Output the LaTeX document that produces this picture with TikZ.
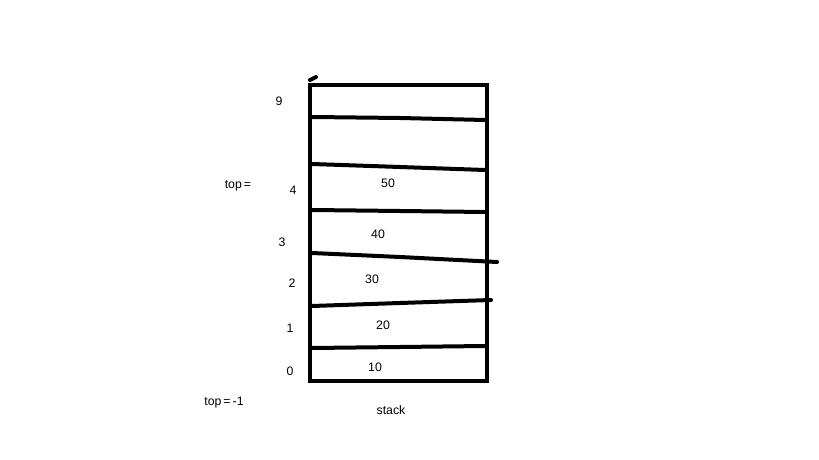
\documentclass[tikz,border=0pt]{standalone}
\usepackage{fontspec}
\setmainfont{Liberation Sans}
\usetikzlibrary{positioning}
\tikzset{
lbl/.style={inner sep=0pt,font=\fontsize{10.5}{12}\selectfont},
pen/.style={line width=0.12cm,line cap=round,black}
}
\begin{document}
\begin{tikzpicture}[x=0.03cm,y=-0.03cm]
\useasboundingbox[fill=white] (0,0) rectangle (819,460);
\draw[pen,line cap=butt] (310,85) rectangle (487,381);
\draw[pen] (310,80) -- (316,77);
\draw[pen] (312,117) -- (400,118) -- (485,120);
\draw[pen] (312,164) -- (400,167) -- (485,170);
\draw[pen] (312,210) -- (400,211) -- (485,212);
\draw[pen] (312,253) -- (400,257) -- (497,262);
\draw[pen] (312,306) -- (400,303) -- (491,300);
\draw[pen] (312,348) -- (400,347) -- (485,346);
\node at (279,101)[lbl](n9){9};
\node at (239,186)[lbl](topn){top\,=\,};
\node at (293,190)[lbl](n4){4};
\node at (388,183)[lbl](v50){50};
\node at (378,234)[lbl](v40){40};
\node at (282,242)[lbl](n3){3};
\node at (372,279)[lbl](v30){30};
\node at (292,283)[lbl](n2){2};
\node at (383,325)[lbl](v20){20};
\node at (290,328)[lbl](n1){1};
\node at (375,367)[lbl](v10){10};
\node at (290,371)[lbl](n0){0};
\node at (224,403)[lbl](topm){top\,=\,-1};
\node at (391,410)[lbl](stk){stack};
\end{tikzpicture}
\end{document}
